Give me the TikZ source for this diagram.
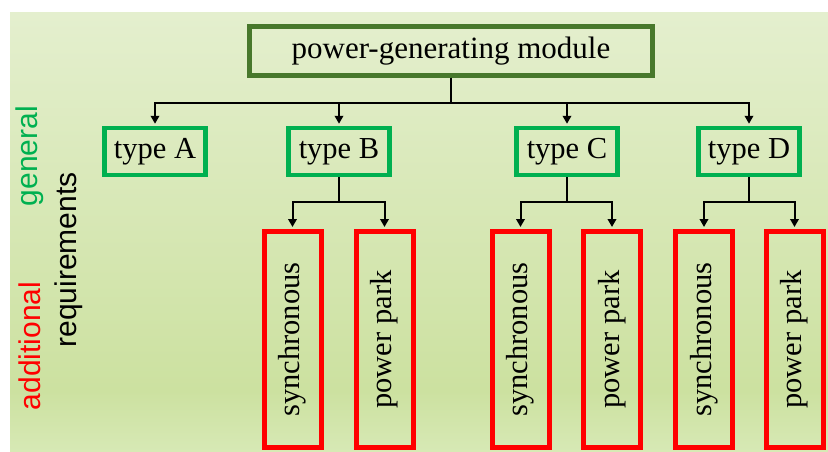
\documentclass[tikz,border=0pt]{standalone}
\usepackage{fontspec}
\setmainfont{Liberation Serif}
\setsansfont{Liberation Sans}
\usetikzlibrary{arrows.meta}
\definecolor{dgreen}{RGB}{72,120,44}
\definecolor{pgreen}{RGB}{0,176,80}
\definecolor{bgtop}{HTML}{E4EFCE}
\definecolor{bgmid}{HTML}{CCE1A0}
\definecolor{bgbot}{HTML}{D7E9B5}
\pgfdeclareverticalshading{bgshade}{100bp}{color(0bp)=(bgbot); color(25bp)=(bgbot); color(32bp)=(bgmid); color(75bp)=(bgtop); color(100bp)=(bgtop)}
\begin{document}
\begin{tikzpicture}[x=1pt,y=-1pt,
  bigfont/.style={font=\fontsize{30.5}{36}\selectfont},
  topbox/.style={draw=dgreen,line width=5pt,minimum width=403pt,minimum height=49pt,inner sep=0pt,font=\fontsize{31}{36}\selectfont},
  typebox/.style={draw=pgreen,line width=4.5pt,minimum width=101pt,minimum height=47pt,inner sep=0pt,bigfont},
  redbox/.style={draw=red,line width=5pt,minimum width=57pt,minimum height=216pt,inner sep=0pt},
  vtext/.style={rotate=90,inner sep=0pt,bigfont},
  side/.style={rotate=90,inner sep=0pt,font=\sffamily\fontsize{30}{36}\selectfont},
  arr/.style={line width=2pt,shorten >=2pt,-{Triangle[length=8pt,width=8.5pt]}}]
\useasboundingbox (0,0) rectangle (828,452);
\shade[shading=bgshade] (10,13) rectangle (828,452);
% top
\node[topbox] (top) at (451,51) {power-generating module};
% types
\node[typebox] (A) at (155,151.5) {type A};
\node[typebox] (B) at (339,151.5) {type B};
\node[typebox] (C) at (567,151.5) {type C};
\node[typebox] (D) at (749,151.5) {type D};
% red boxes
\node[redbox] (Bs) at (292.5,339.5) {};
\node[redbox] (Bp) at (384.5,339.5) {};
\node[redbox] (Cs) at (520.5,339.5) {};
\node[redbox] (Cp) at (612,339.5) {};
\node[redbox] (Ds) at (704,339.5) {};
\node[redbox] (Dp) at (794.5,339.5) {};
\node[vtext] (tBs) at (Bs) {synchronous};
\node[vtext] (tBp) at (Bp) {power park};
\node[vtext] (tCs) at (Cs) {synchronous};
\node[vtext] (tCp) at (Cp) {power park};
\node[vtext] (tDs) at (Ds) {synchronous};
\node[vtext] (tDp) at (Dp) {power park};
% side labels
\node[side,text=pgreen] (gen) at (30,156) {general};
\node[side,text=red] (add) at (30,346) {additional};
\node[side] (req) at (69,260) {requirements};
% connectors
\coordinate (bus) at (451,103);
\draw[arr] (top.south) -- (bus) -| (A.north);
\draw[arr] (top.south) -- (bus) -| (B.north);
\draw[arr] (top.south) -- (bus) -| (C.north);
\draw[arr] (top.south) -- (bus) -| (D.north);
\coordinate (bB) at (339,202);
\coordinate (bC) at (567,202);
\coordinate (bD) at (749,202);
\draw[arr] (B.south) -- (bB) -| (Bs.north);
\draw[arr] (B.south) -- (bB) -| (Bp.north);
\draw[arr] (C.south) -- (bC) -| (Cs.north);
\draw[arr] (C.south) -- (bC) -| (Cp.north);
\draw[arr] (D.south) -- (bD) -| (Ds.north);
\draw[arr] (D.south) -- (bD) -| (Dp.north);
\end{tikzpicture}
\end{document}
